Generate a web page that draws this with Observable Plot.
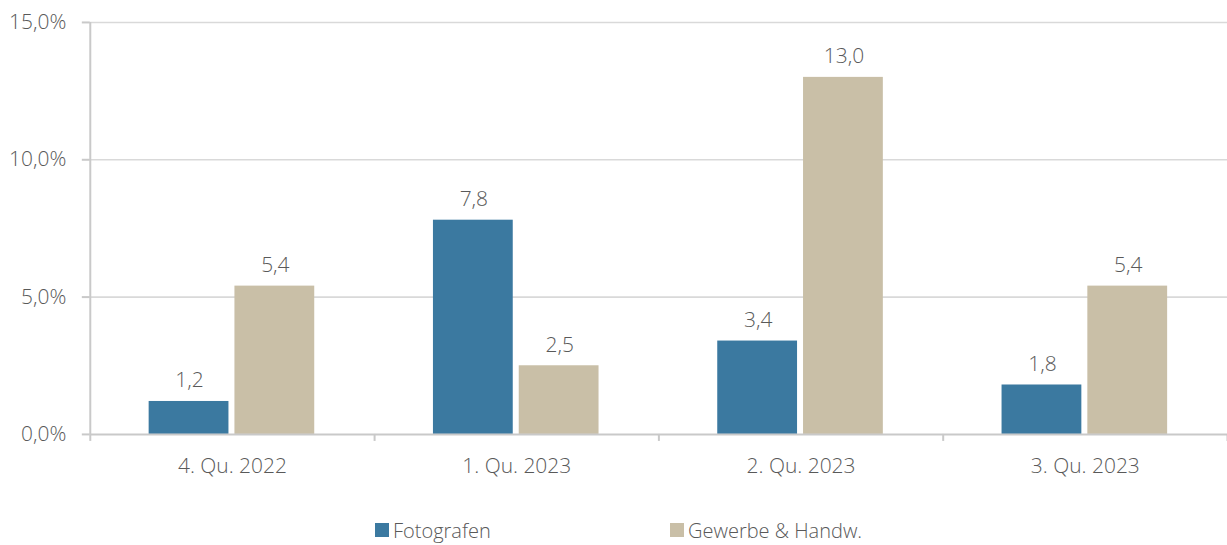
<!DOCTYPE html>
<html><head><meta charset="utf-8">
<script src="https://cdn.jsdelivr.net/npm/d3@7"></script>
<script src="https://cdn.jsdelivr.net/npm/@observablehq/plot@0.6"></script>
<style>
html,body{margin:0;padding:0;background:#fff;}
body{width:1227px;height:545px;overflow:hidden;font-family:"Open Sans",sans-serif;position:relative;}
#chart{position:absolute;left:0;top:0;}
.legend{position:absolute;top:517px;left:0;width:1227px;height:26px;font-size:20px;font-weight:300;color:#595959;}
.legend .item{position:absolute;top:0;display:flex;align-items:center;height:26px;}
.legend .sw{width:14px;height:14px;margin-right:4px;}
</style></head><body>
<div id="chart"></div>
<div class="legend" id="legend"></div>
<script>
const categories = ["4. Qu. 2022", "1. Qu. 2023", "2. Qu. 2023", "3. Qu. 2023"];
const seriesNames = ["Fotografen", "Gewerbe & Handw."];
const fotografen = [1.2, 7.8, 3.4, 1.8];
const gewerbe = [5.4, 2.5, 13.0, 5.4];
const yTicks = [0, 5, 10, 15];
const colors = ["#3b79a0", "#c9bfa7"];

const fmt = v => v.toFixed(1).replace(".", ",");
const rowsA = categories.map((c, i) => ({i, cat: c, series: seriesNames[0], value: fotografen[i]}));
const rowsB = categories.map((c, i) => ({i, cat: c, series: seriesNames[1], value: gewerbe[i]}));
const bounds = categories.map((_, i) => i).concat([categories.length]);
const centers = categories.map((_, i) => i + 0.5);

const grid = "#d9d9d9", axisC = "#c9c9c9", textC = "#595959";

const plot = Plot.plot({
  width: 1230,
  height: 490,
  marginLeft: 90,
  marginRight: 0,
  marginTop: 22,
  marginBottom: 55,
  style: {fontFamily: "'Open Sans', sans-serif", fontSize: "21px", fontWeight: 300, color: textC, background: "#fff", overflow: "visible"},
  x: {type: "linear", domain: [0, categories.length], axis: null},
  y: {domain: [0, 15], axis: null},
  marks: [
    Plot.ruleY(yTicks.filter(d => d > 0), {stroke: grid, strokeWidth: 1.6}),
    Plot.rectY(rowsA, {x1: d => d.i, x2: d => d.i + 1, y1: 0, y2: "value", fill: colors[0], insetLeft: 59, insetRight: 146}),
    Plot.rectY(rowsB, {x1: d => d.i, x2: d => d.i + 1, y1: 0, y2: "value", fill: colors[1], insetLeft: 145, insetRight: 60}),
    Plot.text(rowsA, {x: d => d.i + 0.5, y: "value", text: d => fmt(d.value), dx: -43, dy: -21, fill: textC, lineAnchor: "middle"}),
    Plot.text(rowsB, {x: d => d.i + 0.5, y: "value", text: d => fmt(d.value), dx: 43, dy: -21, fill: textC, lineAnchor: "middle"}),
    Plot.ruleY([0], {stroke: axisC, strokeWidth: 2}),
    Plot.ruleX([0], {y1: 0, y2: 15, stroke: axisC, strokeWidth: 2}),
    Plot.axisY({ticks: yTicks, tickFormat: d => fmt(d) + "%", tickSize: 8, tickPadding: 16, stroke: axisC, strokeWidth: 2, fill: textC, label: null}),
    Plot.axisX({ticks: bounds, tickFormat: () => "", tickSize: 7, stroke: axisC, strokeWidth: 2, label: null}),
    Plot.axisX({ticks: centers, tickFormat: d => categories[Math.floor(d)], tickSize: 0, tickPadding: 24, fill: textC, label: null})
  ]
});
document.getElementById("chart").appendChild(plot);

const legend = document.getElementById("legend");
const legendX = [375, 670];
seriesNames.forEach((name, k) => {
  const item = document.createElement("div");
  item.className = "item";
  item.style.left = legendX[k] + "px";
  const sw = document.createElement("span");
  sw.className = "sw";
  sw.style.background = colors[k];
  const t = document.createElement("span");
  t.textContent = name;
  item.appendChild(sw);
  item.appendChild(t);
  legend.appendChild(item);
});
</script>
</body></html>
